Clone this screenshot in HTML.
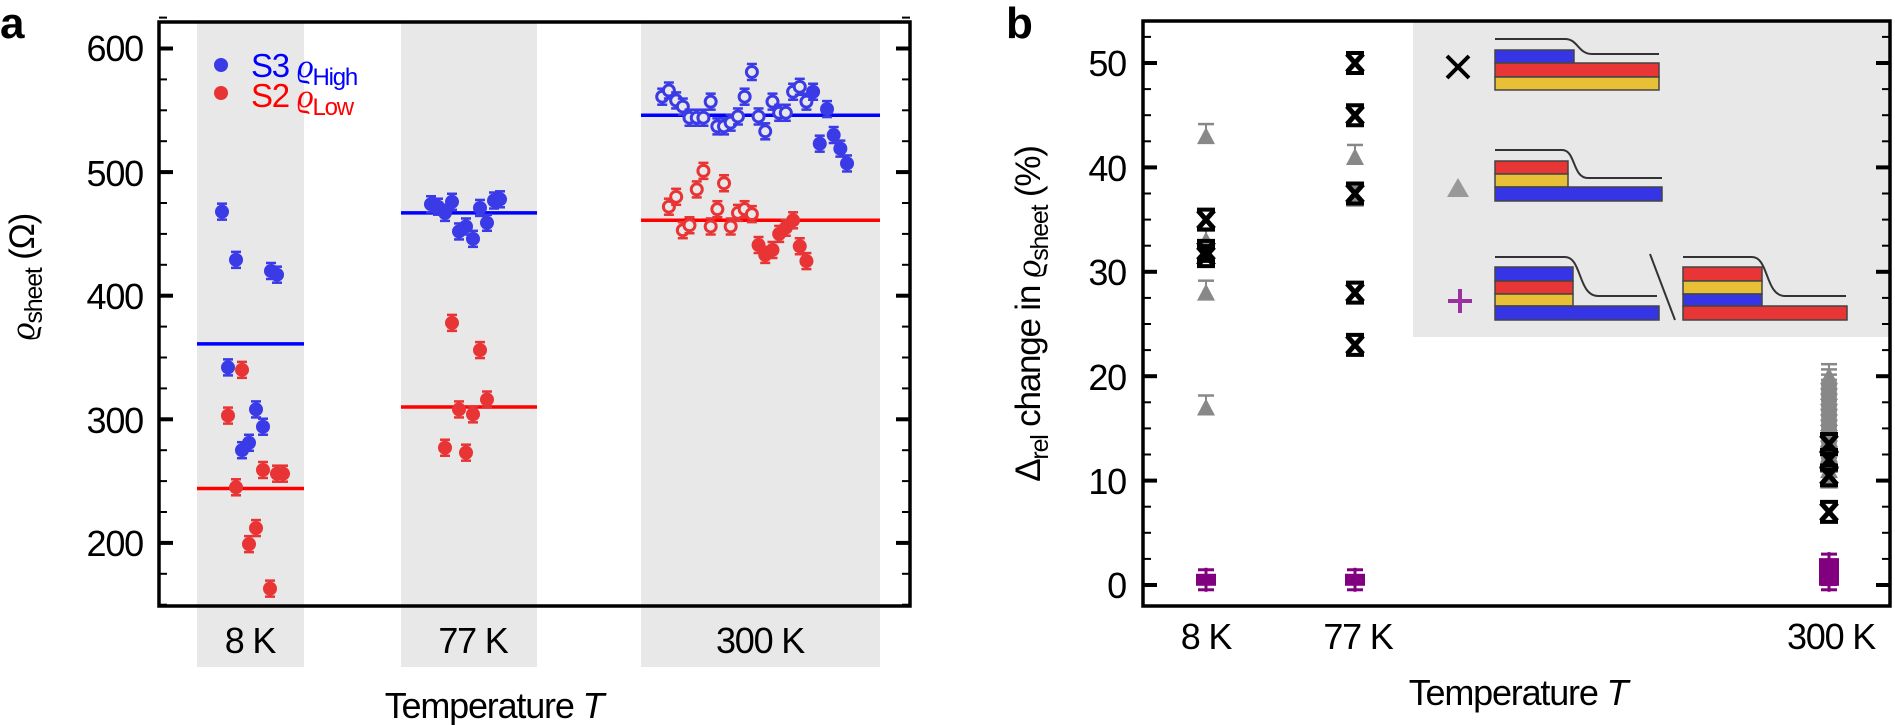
<!DOCTYPE html>
<html><head><meta charset="utf-8">
<style>
html,body{margin:0;padding:0;background:#fff;}
svg{display:block;font-family:"Liberation Sans Narrow","Liberation Sans",sans-serif;}
.t{letter-spacing:-1.2px;}
</style></head>
<body>
<svg id="s" width="1895" height="725" viewBox="0 0 1895 725" xmlns="http://www.w3.org/2000/svg">
<rect x="197" y="22" width="107" height="645" fill="#e8e8e8"/>
<rect x="401" y="22" width="136" height="645" fill="#e8e8e8"/>
<rect x="641" y="22" width="239" height="645" fill="#e8e8e8"/>
<rect x="1413" y="21" width="477" height="316" fill="#e8e8e8"/>
<g id="a"></g>
<g id="b"></g>
<rect x="159" y="22" width="751" height="584" fill="none" stroke="#000" stroke-width="3.5"/>
<rect x="1143" y="21" width="747" height="585" fill="none" stroke="#000" stroke-width="3.5"/>
<text x="0" y="38" font-size="44" font-weight="bold" font-family="Liberation Sans, sans-serif">a</text>
<g font-size="36" text-anchor="end" class="t">
<text x="143" y="61">600</text><text x="143" y="186">500</text><text x="143" y="309">400</text><text x="143" y="433">300</text><text x="143" y="556">200</text>
</g>
<g font-size="36" text-anchor="middle" class="t">
<text x="250" y="653">8 K</text><text x="473" y="653">77 K</text><text x="760" y="653">300 K</text>
<text x="494" y="718">Temperature <tspan font-style="italic">T</tspan></text>
</g>
<text transform="translate(34,277) rotate(-90)" font-size="35" text-anchor="middle" class="t"><tspan font-family="Liberation Serif, serif" font-style="italic">ϱ</tspan><tspan font-size="25" dy="8">sheet</tspan><tspan dy="-8"> (Ω)</tspan></text>
<circle cx="221" cy="65" r="7" fill="#3a3ae6"/><circle cx="221" cy="93" r="7" fill="#e83434"/>
<text x="251" y="77" font-size="33" fill="#0000ff" class="t">S3 <tspan font-family="Liberation Serif, serif" font-style="italic">ϱ</tspan><tspan font-size="24" dy="8">High</tspan></text>
<text x="251" y="107" font-size="33" fill="#ff0000" class="t">S2 <tspan font-family="Liberation Serif, serif" font-style="italic">ϱ</tspan><tspan font-size="24" dy="8">Low</tspan></text>
<text x="1006" y="38" font-size="44" font-weight="bold" font-family="Liberation Sans, sans-serif">b</text>
<g font-size="36" text-anchor="end" class="t">
<text x="1126" y="76">50</text><text x="1126" y="181">40</text><text x="1126" y="285">30</text><text x="1126" y="390">20</text><text x="1126" y="494">10</text><text x="1126" y="598">0</text>
</g>
<g font-size="36" text-anchor="middle" class="t">
<text x="1206" y="649">8 K</text><text x="1358" y="649">77 K</text><text x="1831" y="649">300 K</text>
<text x="1518" y="705">Temperature <tspan font-style="italic">T</tspan></text>
</g>
<text transform="translate(1040,314) rotate(-90)" font-size="35" text-anchor="middle" class="t">Δ<tspan font-size="25" dy="8">rel</tspan><tspan dy="-8"> change in </tspan><tspan font-family="Liberation Serif, serif" font-style="italic">ϱ</tspan><tspan font-size="25" dy="8">sheet</tspan><tspan dy="-8"> (%)</tspan></text>
<g stroke="#000" stroke-width="4"><line x1="1447" y1="56" x2="1469" y2="78"/><line x1="1469" y1="56" x2="1447" y2="78"/></g>
<polygon points="1458,178 1469,197 1447,197" fill="#999"/>
<g stroke="#9b30a0" stroke-width="4"><line x1="1460" y1="289" x2="1460" y2="313"/><line x1="1448" y1="301" x2="1472" y2="301"/></g>
<g stroke="#444" stroke-width="1.5">
<rect x="1495" y="50" width="79" height="13" fill="#3535e6"/><rect x="1495" y="63" width="164" height="14" fill="#e83636"/><rect x="1495" y="77" width="164" height="13" fill="#e8c038"/>
<rect x="1495" y="161" width="73" height="13" fill="#e83636"/><rect x="1495" y="174" width="73" height="13" fill="#e8c038"/><rect x="1495" y="187" width="167" height="14" fill="#3535e6"/>
<rect x="1495" y="267" width="78" height="14" fill="#3535e6"/><rect x="1495" y="281" width="78" height="13" fill="#e83636"/><rect x="1495" y="294" width="78" height="12" fill="#e8c038"/><rect x="1495" y="306" width="164" height="14" fill="#3535e6"/>
<rect x="1683" y="267" width="79" height="14" fill="#e83636"/><rect x="1683" y="281" width="79" height="13" fill="#e8c038"/><rect x="1683" y="294" width="79" height="12" fill="#3535e6"/><rect x="1683" y="306" width="164" height="14" fill="#e83636"/>
</g>
<g fill="none" stroke="#333" stroke-width="2">
<path d="M1495 39 H1565 C1578 39 1578 54 1592 54 H1659"/>
<path d="M1495 150 H1562 C1576 150 1572 178 1588 178 H1662"/>
<path d="M1495 257 H1565 C1582 257 1578 296 1598 296 H1657"/>
<path d="M1683 257 H1752 C1769 257 1765 296 1785 296 H1846"/>
<line x1="1650" y1="254" x2="1675" y2="320"/>
</g>
</svg>
<script>
const NS="http://www.w3.org/2000/svg";
function el(p,t,a){const e=document.createElementNS(NS,t);for(const k in a)e.setAttribute(k,a[k]);p.appendChild(e);return e;}
const A=document.getElementById('a'),B=document.getElementById('b');
function ya(v){return 48.5+(600-v)*1.236;}
for(let v=150;v<=625;v+=25){const y=ya(v);const big=v%100==0;const L=big?14:8;
 el(A,'line',{x1:159,x2:159+L,y1:y,y2:y,stroke:'#000','stroke-width':big?4:2});
 el(A,'line',{x1:910-L,x2:910,y1:y,y2:y,stroke:'#000','stroke-width':big?4:2});}
[[197,304,361,'#0000ff'],[197,304,244,'#ff0000'],[401,537,467,'#0000ff'],[401,537,310,'#ff0000'],[641,880,546,'#0000ff'],[641,880,461,'#ff0000']].forEach(l=>el(A,'line',{x1:l[0],x2:l[1],y1:ya(l[2]),y2:ya(l[2]),stroke:l[3],'stroke-width':3.5}));
function pt(x,v,c,open){const y=ya(v);const e=8;
 el(A,'line',{x1:x,x2:x,y1:y-e,y2:y+e,stroke:c,'stroke-width':2.5});
 el(A,'line',{x1:x-5,x2:x+5,y1:y-e,y2:y-e,stroke:c,'stroke-width':2.5});
 el(A,'line',{x1:x-5,x2:x+5,y1:y+e,y2:y+e,stroke:c,'stroke-width':2.5});
 if(open)el(A,'circle',{cx:x,cy:y,r:5.5,fill:'#e8e8e8',stroke:c,'stroke-width':3});
 else el(A,'circle',{cx:x,cy:y,r:7,fill:c});}
const BL='#3a3ae6',RD='#e83434';
[[222,468],[236,429],[271,420],[277,417],[228,342],[256,308],[263,294],[242,275],[249,281]].forEach(p=>pt(p[0],p[1],BL));
[[242,340],[228,303],[263,259],[277,256],[283,256],[236,245],[256,212],[249,199],[270,163]].forEach(p=>pt(p[0],p[1],RD));
[[431,474],[438,472],[445,467],[452,476],[459,452],[466,456],[473,446],[480,471],[487,459],[494,477],[500,478]].forEach(p=>pt(p[0],p[1],BL));
[[452,378],[480,356],[459,308],[473,304],[487,316],[445,277],[466,273]].forEach(p=>pt(p[0],p[1],RD));
const zx=z=>z/1.6505;
[[1093,561],[1104,566],[1116,558],[1127,553],[1138,544],[1150,544],[1161,544],[1173,557],[1184,537],[1195,537],[1206,540],[1218,545],[1229,561],[1241,581],[1252,545],[1263,533],[1275,557],[1286,548],[1297,548],[1309,565],[1320,569],[1331,557]].forEach(p=>pt(zx(p[0]),p[1],BL,true));
[[1342,565],[1353,523],[1365,551],[1376,530],[1387,519],[1398,507]].forEach(p=>pt(zx(p[0]),p[1],BL));
[[1104,472],[1116,480],[1127,453],[1138,457],[1150,486],[1161,501],[1173,456],[1184,470],[1195,491],[1206,456],[1218,467],[1229,470],[1241,466]].forEach(p=>pt(zx(p[0]),p[1],RD,true));
[[1252,441],[1263,433],[1275,437],[1286,450],[1297,455],[1309,461],[1320,440],[1331,428]].forEach(p=>pt(zx(p[0]),p[1],RD));
function yb(v){return 585-v*10.44;}
for(let i=0;i<=21;i++){const v=i*2.5;const y=yb(v);if(y<22)continue;const big=v%10==0;const L=big?14:8;
 el(B,'line',{x1:1143,x2:1143+L,y1:y,y2:y,stroke:'#000','stroke-width':big?4:2});
 el(B,'line',{x1:1890-L,x2:1890,y1:y,y2:y,stroke:'#000','stroke-width':big?4:2});}
function tri(x,v){const y=yb(v);
 el(B,'line',{x1:x,x2:x,y1:y-12,y2:y,stroke:'#888','stroke-width':2});
 el(B,'line',{x1:x-8,x2:x+8,y1:y-12,y2:y-12,stroke:'#888','stroke-width':2.5});
 el(B,'polygon',{points:`${x},${y-9} ${x+9},${y+8} ${x-9},${y+8}`,fill:'#888'});}
function cx(x,v){const y=yb(v);
 el(B,'line',{x1:x-9,x2:x+9,y1:y-10,y2:y-10,stroke:'#000','stroke-width':4});
 el(B,'line',{x1:x-9,x2:x+9,y1:y+10,y2:y+10,stroke:'#000','stroke-width':4});
 el(B,'line',{x1:x-8,x2:x+8,y1:y-9,y2:y+9,stroke:'#000','stroke-width':5});
 el(B,'line',{x1:x+8,x2:x-8,y1:y-9,y2:y+9,stroke:'#000','stroke-width':5});}
function pl(x,v){const y=yb(v);
 el(B,'line',{x1:x,x2:x,y1:y-12,y2:y+12,stroke:'#800080','stroke-width':3});
 el(B,'rect',{x:x-10,y:y-6,width:20,height:12,fill:'#800080'});
 el(B,'line',{x1:x-8,x2:x+8,y1:y-10,y2:y-10,stroke:'#800080','stroke-width':3});
 el(B,'line',{x1:x-8,x2:x+8,y1:y+10,y2:y+10,stroke:'#800080','stroke-width':3});}
[43,33,28,17].forEach(v=>tri(1206,v));
[35,32,31.5].forEach(v=>cx(1206,v));
pl(1206,0.5);
[41,37].forEach(v=>tri(1355,v));
[50,45,37.5,28,23].forEach(v=>cx(1355,v));
pl(1355,0.5);
for(let v=20;v>=10;v-=0.5)tri(1829,v);
[13.5,12,10.5,7].forEach(v=>cx(1829,v));
[2,1,0.5].forEach(v=>pl(1829,v));
</script>
</body></html>
